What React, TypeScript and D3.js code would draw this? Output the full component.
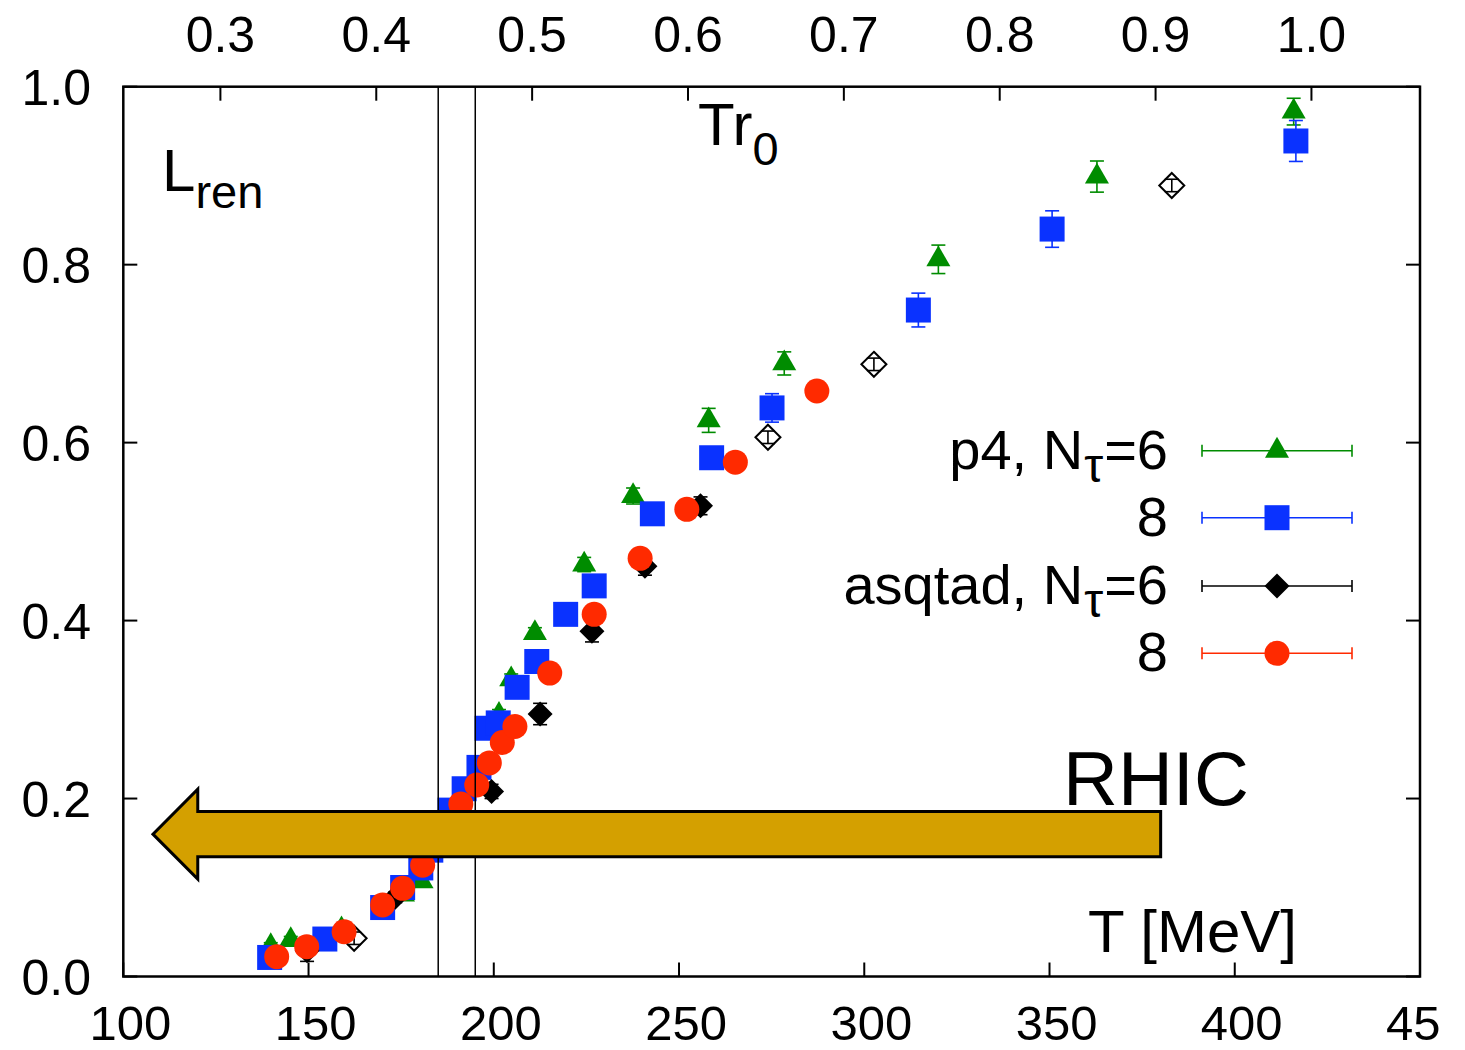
import React from 'react';
import * as d3 from 'd3';

const W = 1465;
const H = 1050;

// axis domains and ticks
const xDomain = [100, 450];
const yDomain = [0, 1];
const xTicks = [100, 150, 200, 250, 300, 350, 400, 450];
const yTicks = [0, 0.2, 0.4, 0.6, 0.8, 1.0];
const topTicks = [0.3, 0.4, 0.5, 0.6, 0.7, 0.8, 0.9, 1.0];
const r0Factor = 0.002377; // T r0 per MeV

// p4, Ntau=6 (green triangles)
const p4Nt6T = [139.8, 145.2, 158.9, 175.5, 180.5, 201.4, 204.7, 211.1, 224.4, 237.6, 258.0, 278.4, 320.0, 362.8, 415.9];
const p4Nt6L = [0.034, 0.041, 0.053, 0.092, 0.107, 0.294, 0.334, 0.386, 0.463, 0.540, 0.625, 0.689, 0.806, 0.899, 0.972];
const p4Nt6E = [0.004, 0.004, 0.004, 0.004, 0.005, 0.006, 0.006, 0.006, 0.008, 0.009, 0.0135, 0.013, 0.016, 0.0175, 0.015];

// p4, Ntau=8 (blue squares)
const p4Nt8T = [139.5, 154.4, 170.0, 175.4, 180.3, 183.0, 188.2, 192.0, 196.0, 198.2, 201.2, 206.3, 211.6, 219.4, 227.1, 242.8, 258.8, 275.1, 314.6, 350.7, 416.5];
const p4Nt8L = [0.0214, 0.0421, 0.0775, 0.100, 0.122, 0.142, 0.187, 0.211, 0.235, 0.279, 0.285, 0.325, 0.354, 0.407, 0.439, 0.520, 0.583, 0.639, 0.749, 0.840, 0.939];
const p4Nt8E = [0.003, 0.003, 0.003, 0.003, 0.004, 0.004, 0.004, 0.004, 0.005, 0.005, 0.005, 0.006, 0.006, 0.007, 0.007, 0.010, 0.012, 0.016, 0.019, 0.0205, 0.023];

// asqtad, Ntau=6 (black filled diamonds)
const asq6T = [149.6, 173.4, 199.4, 212.5, 226.5, 240.8, 255.8];
const asq6L = [0.029, 0.089, 0.208, 0.295, 0.388, 0.461, 0.529];
const asq6E = [0.012, 0.006, 0.008, 0.012, 0.012, 0.010, 0.010];

// asqtad, Ntau=6, additional open diamonds
const asq6OpenT = [162.3, 274.0, 302.6, 383.0];
const asq6OpenL = [0.043, 0.606, 0.688, 0.889];
const asq6OpenE = [0.007, 0.007, 0.007, 0.007];

// asqtad, Ntau=8 (red circles)
const asq8T = [141.4, 149.5, 159.6, 170.0, 175.4, 180.8, 191.1, 195.4, 198.8, 202.3, 205.7, 215.1, 227.1, 239.5, 252.1, 265.2, 287.2];
const asq8L = [0.0223, 0.0335, 0.0503, 0.0804, 0.0991, 0.125, 0.194, 0.2152, 0.240, 0.263, 0.281, 0.341, 0.407, 0.470, 0.525, 0.578, 0.658];
const asq8E = [0.002, 0.002, 0.002, 0.002, 0.003, 0.003, 0.003, 0.003, 0.004, 0.004, 0.004, 0.005, 0.005, 0.006, 0.006, 0.007, 0.008];

// annotation values
const tcLines = [185, 195];
const arrowFrom = 380;
const arrowTo = 108;
const arrowL = 0.16;

const GREEN = '#008c00';
const BLUE = '#0a32ff';
const BLACK = '#000000';
const RED = '#ff2a00';
const GOLD = '#d4a000';
const FONT = '"Liberation Sans", Arial, Helvetica, sans-serif';

const x = d3.scaleLinear().domain(xDomain).range([123.3, 1420]);
const y = d3.scaleLinear().domain(yDomain).range([976.5, 86.7]);
const xTop = d3.scaleLinear().domain([xDomain[0] * r0Factor, xDomain[1] * r0Factor]).range([123.3, 1420]);

const triPath = d3.symbol(d3.symbolTriangle, 250)()!;
const sqPath = d3.symbol(d3.symbolSquare, 625)()!;
const circPath = d3.symbol(d3.symbolCircle, 491)()!;
const diamondPath = (r: number) => `M0,${-r}L${r},0L0,${r}L${-r},0Z`;

type Kind = 'tri' | 'sq' | 'diam' | 'open' | 'circ';

function Marker({ kind, color }: { kind: Kind; color: string }) {
  if (kind === 'tri') return <path d={triPath} fill={color} />;
  if (kind === 'sq') return <path d={sqPath} fill={color} />;
  if (kind === 'circ') return <path d={circPath} fill={color} />;
  if (kind === 'diam') return <path d={diamondPath(12.5)} fill={color} />;
  return <path d={diamondPath(12.5)} fill="#fff" stroke="#000" strokeWidth={2} />;
}

function Series({ T, L, E, kind, color }: { T: number[]; L: number[]; E: number[]; kind: Kind; color: string }) {
  return (
    <g>
      {T.map((t, i) => {
        const cx = x(t);
        const cy = y(L[i]);
        const y1 = y(L[i] + E[i]);
        const y2 = y(L[i] - E[i]);
        const ecol = kind === 'open' ? '#000' : color;
        const bar = (
          <g key={'e' + i} stroke={ecol} strokeWidth={1.6}>
            <line x1={cx} x2={cx} y1={y1} y2={y2} />
            <line x1={cx - 7} x2={cx + 7} y1={y1} y2={y1} />
            <line x1={cx - 7} x2={cx + 7} y1={y2} y2={y2} />
          </g>
        );
        return (
          <g key={i}>
            {kind !== 'open' && bar}
            <g transform={`translate(${cx},${cy})`}>
              <Marker kind={kind} color={color} />
            </g>
            {kind === 'open' && bar}
          </g>
        );
      })}
    </g>
  );
}

const legendItems = [
  { label: 'p4, N', sub: 'τ', tail: '=6', kind: 'tri' as Kind, color: GREEN },
  { label: '8', sub: '', tail: '', kind: 'sq' as Kind, color: BLUE },
  { label: 'asqtad, N', sub: 'τ', tail: '=6', kind: 'diam' as Kind, color: BLACK },
  { label: '8', sub: '', tail: '', kind: 'circ' as Kind, color: RED },
];
const legendY = [450.7, 517.7, 586, 653.3];

export default function App() {
  const x0 = x(xDomain[0]);
  const x1 = x(xDomain[1]);
  const yB = y(0);
  const yT = y(1);
  const tick = 14;

  const ayM = y(arrowL);
  const shaftH = y(arrowL - 0.0253) - ayM;
  const headH = y(arrowL - 0.0506) - ayM;
  const headBack = x(arrowTo + 12.1);
  const arrowPts = [
    [x(arrowFrom), ayM - shaftH],
    [headBack, ayM - shaftH],
    [headBack, ayM - headH],
    [x(arrowTo), ayM],
    [headBack, ayM + headH],
    [headBack, ayM + shaftH],
    [x(arrowFrom), ayM + shaftH],
  ];

  return (
    <svg width={W} height={H} style={{ position: 'absolute', left: 0, top: 0, background: '#fff' }} fontFamily={FONT}>
      <defs>
        <clipPath id="imgclip">
          <rect x={0} y={0} width={1442} height={H} />
        </clipPath>
      </defs>
      <rect x={0} y={0} width={W} height={H} fill="#fff" />

      {/* data */}
      <Series T={p4Nt6T} L={p4Nt6L} E={p4Nt6E} kind="tri" color={GREEN} />
      <Series T={p4Nt8T} L={p4Nt8L} E={p4Nt8E} kind="sq" color={BLUE} />
      <Series T={asq6T} L={asq6L} E={asq6E} kind="diam" color={BLACK} />
      <Series T={asq6OpenT} L={asq6OpenL} E={asq6OpenE} kind="open" color={BLACK} />
      <Series T={asq8T} L={asq8L} E={asq8E} kind="circ" color={RED} />

      {/* vertical transition lines */}
      {tcLines.map((t) => (
        <line key={t} x1={x(t)} x2={x(t)} y1={yB} y2={yT} stroke="#000" strokeWidth={1.5} />
      ))}

      {/* arrow */}
      <polygon points={arrowPts.map((p) => p.join(',')).join(' ')} fill={GOLD} stroke="#000" strokeWidth={3} strokeLinejoin="miter" />

      {/* frame */}
      <rect x={x0} y={yT} width={x1 - x0} height={yB - yT} fill="none" stroke="#000" strokeWidth={2.5} />

      {/* bottom ticks + labels */}
      {xTicks.map((t, i) => (
        <g key={'xb' + t}>
          <line x1={x(t)} x2={x(t)} y1={yB} y2={yB - tick} stroke="#000" strokeWidth={2} />
          <text x={x(t) + 7} y={1040} fontSize={49} textAnchor="middle" clipPath={i === xTicks.length - 1 ? 'url(#imgclip)' : undefined}>{t}</text>
        </g>
      ))}
      {/* top ticks + labels */}
      {topTicks.map((t) => (
        <g key={'xt' + t}>
          <line x1={xTop(t)} x2={xTop(t)} y1={yT} y2={yT + tick} stroke="#000" strokeWidth={2} />
          <text x={xTop(t)} y={52} fontSize={50} textAnchor="middle">{t.toFixed(1)}</text>
        </g>
      ))}
      {/* y ticks + labels */}
      {yTicks.map((v) => (
        <g key={'y' + v}>
          <line x1={x0} x2={x0 + tick} y1={y(v)} y2={y(v)} stroke="#000" strokeWidth={2} />
          <line x1={x1} x2={x1 - tick} y1={y(v)} y2={y(v)} stroke="#000" strokeWidth={2} />
          <text x={91} y={y(v) + 18} fontSize={50} textAnchor="end">{v.toFixed(1)}</text>
        </g>
      ))}

      {/* labels */}
      <text x={162} y={190.7} fontSize={60}>L<tspan fontSize={47} dy={17.6}>ren</tspan></text>
      <text x={698} y={145} fontSize={60}>Tr<tspan fontSize={47} dy={20}>0</tspan></text>
      <text x={1063} y={805} fontSize={76}>RHIC</text>
      <text x={1088} y={951.7} fontSize={60}>T [MeV]</text>

      {/* legend */}
      {legendItems.map((it, i) => {
        const ly = legendY[i];
        return (
          <g key={'lg' + i}>
            <text x={1168} y={ly + 18} fontSize={56} textAnchor="end">
              {it.label}
              {it.sub && <tspan fontSize={48} dy={13} dx={1}>{it.sub}</tspan>}
              {it.tail && <tspan dy={-13} dx={1}>{it.tail}</tspan>}
            </text>
            <g stroke={it.color} strokeWidth={1.6}>
              <line x1={1202} x2={1352} y1={ly} y2={ly} />
              <line x1={1202} x2={1202} y1={ly - 6} y2={ly + 6} />
              <line x1={1352} x2={1352} y1={ly - 6} y2={ly + 6} />
            </g>
            <g transform={`translate(1277,${ly})`}>
              <Marker kind={it.kind} color={it.color} />
            </g>
          </g>
        );
      })}
    </svg>
  );
}
